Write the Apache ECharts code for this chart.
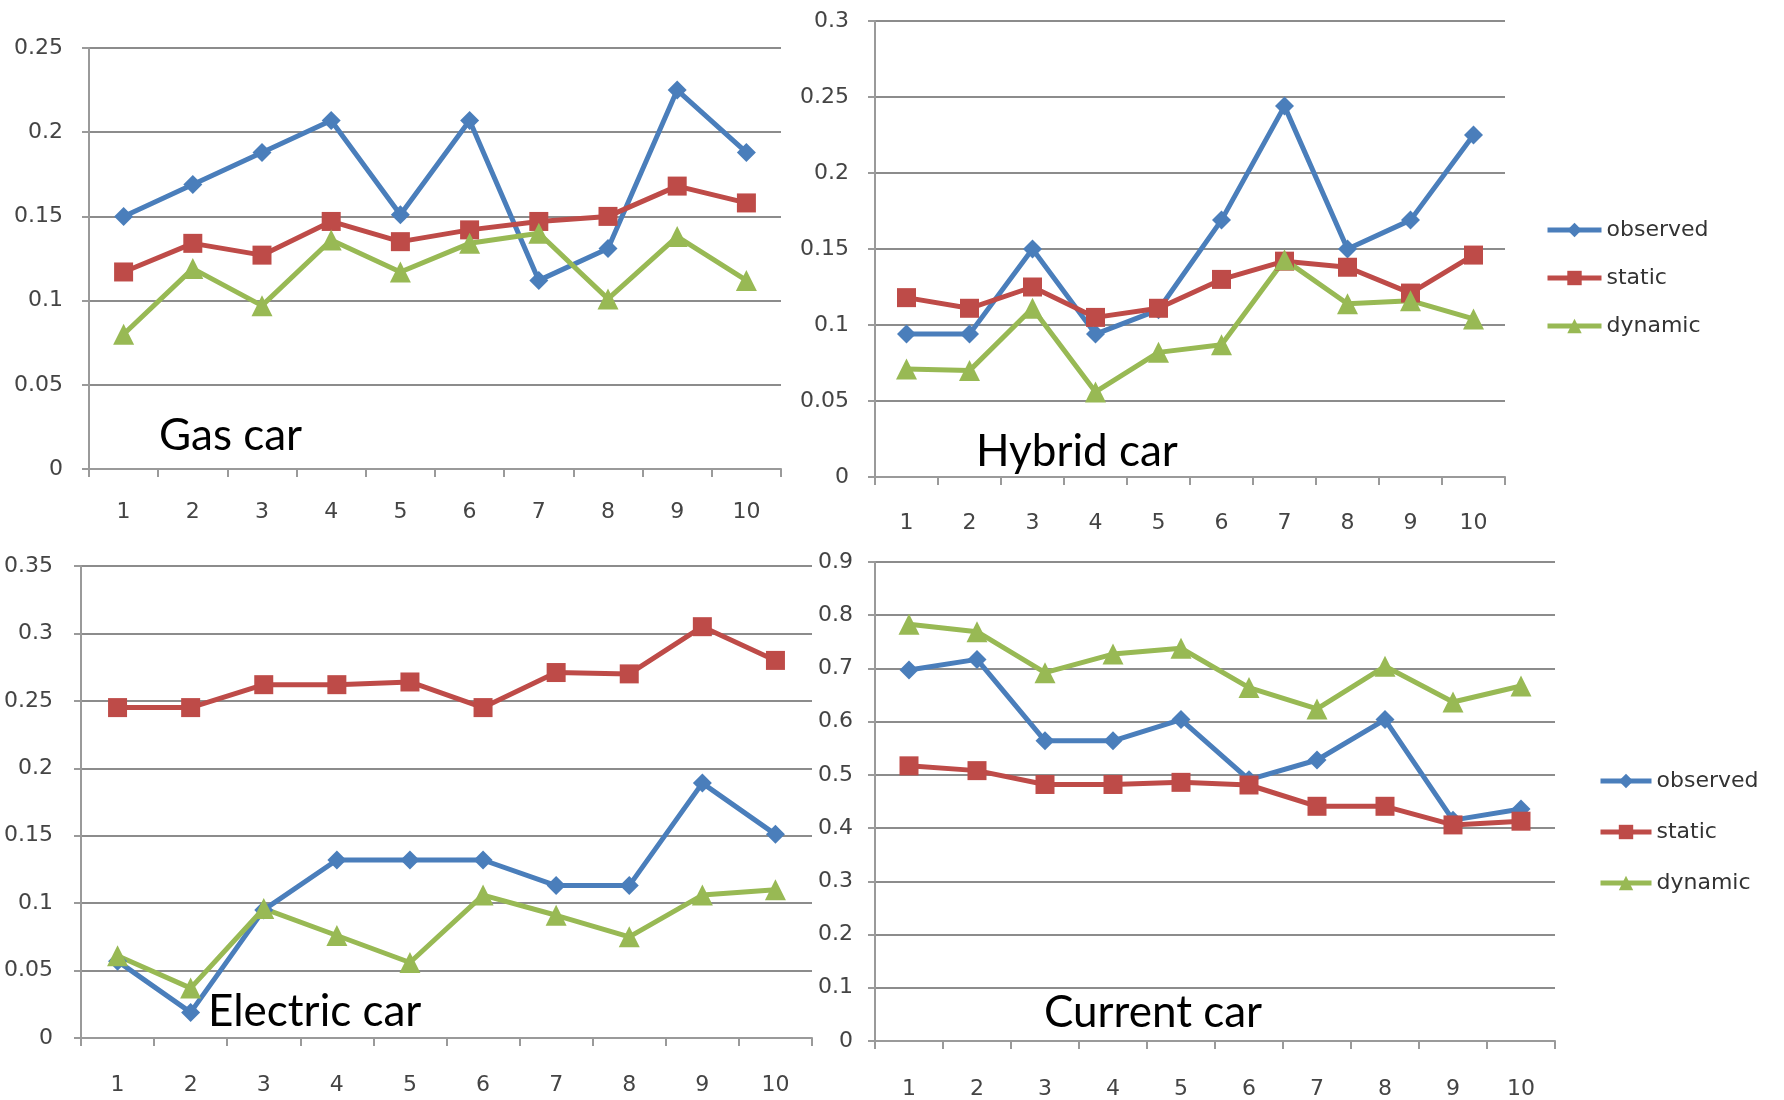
<!DOCTYPE html>
<html>
<head>
<meta charset="utf-8">
<title>car charts</title>
<script src="https://cdn.jsdelivr.net/npm/echarts@6/dist/echarts.min.js"></script>
<style>
  html, body { margin: 0; padding: 0; background: #fff; }
  #main { width: 1784px; height: 1100px; }
</style>
</head>
<body>
<div id="main"></div>
<script>
var categories = ['1', '2', '3', '4', '5', '6', '7', '8', '9', '10'];
var seriesNames = ['observed', 'static', 'dynamic'];

// Gas car
var gasObserved = [0.150, 0.169, 0.188, 0.207, 0.151, 0.207, 0.112, 0.131, 0.225, 0.188];
var gasStatic   = [0.117, 0.134, 0.127, 0.147, 0.135, 0.142, 0.147, 0.150, 0.168, 0.158];
var gasDynamic  = [0.080, 0.119, 0.097, 0.136, 0.117, 0.134, 0.140, 0.101, 0.138, 0.112];
// Hybrid car
var hybObserved = [0.094, 0.094, 0.150, 0.094, 0.110, 0.169, 0.244, 0.150, 0.169, 0.225];
var hybStatic   = [0.118, 0.111, 0.125, 0.105, 0.111, 0.130, 0.142, 0.138, 0.121, 0.146];
var hybDynamic  = [0.071, 0.070, 0.111, 0.056, 0.082, 0.087, 0.143, 0.114, 0.116, 0.104];
// Electric car
var elecObserved = [0.057, 0.019, 0.095, 0.132, 0.132, 0.132, 0.113, 0.113, 0.189, 0.151];
var elecStatic   = [0.245, 0.245, 0.262, 0.262, 0.264, 0.245, 0.271, 0.270, 0.305, 0.280];
var elecDynamic  = [0.061, 0.037, 0.096, 0.076, 0.056, 0.106, 0.091, 0.075, 0.106, 0.110];
// Current car
var curObserved = [0.697, 0.717, 0.564, 0.564, 0.604, 0.491, 0.528, 0.604, 0.415, 0.436];
var curStatic   = [0.517, 0.508, 0.482, 0.482, 0.486, 0.481, 0.441, 0.441, 0.406, 0.413];
var curDynamic  = [0.783, 0.769, 0.692, 0.727, 0.738, 0.664, 0.624, 0.704, 0.637, 0.667];

var yMax = [0.25, 0.3, 0.35, 0.9];
var yStep = [0.05, 0.05, 0.05, 0.1];
var panelTitles = ['Gas car', 'Hybrid car', 'Electric car', 'Current car'];

var colors = ['#4A7EBB', '#BE4B48', '#98B954'];
var symbols = ['diamond', 'rect', 'triangle'];
var symbolSizes = [19, 19, 21];

var panels = [
  { grid: { left: 89, top: 48, width: 692, height: 421 }, xMargin: 32, yMargin: 26, data: [gasObserved, gasStatic, gasDynamic] },
  { grid: { left: 875, top: 21, width: 630, height: 456 }, xMargin: 35, yMargin: 26, data: [hybObserved, hybStatic, hybDynamic] },
  { grid: { left: 81, top: 566, width: 731, height: 472 }, xMargin: 36, yMargin: 28, data: [elecObserved, elecStatic, elecDynamic] },
  { grid: { left: 875, top: 562, width: 680, height: 480 }, xMargin: 37, yMargin: 22, data: [curObserved, curStatic, curDynamic] }
];

var labelFont = 'DejaVu Sans';
var titleFont = 'Lato';

var grids = [], xAxes = [], yAxes = [], series = [];
panels.forEach(function (p, i) {
  grids.push(p.grid);
  xAxes.push({
    type: 'category',
    gridIndex: i,
    data: categories,
    boundaryGap: true,
    axisLine: { lineStyle: { color: '#9a9a9a', width: 2 } },
    axisTick: { show: true, length: 8, lineStyle: { color: '#9a9a9a', width: 2 } },
    axisLabel: { color: '#444', fontSize: 22, fontFamily: labelFont, margin: p.xMargin },
    splitLine: { show: false }
  });
  yAxes.push({
    type: 'value',
    gridIndex: i,
    min: 0,
    max: yMax[i],
    interval: yStep[i],
    axisLine: { show: true, lineStyle: { color: '#9a9a9a', width: 2 } },
    axisTick: { show: true, length: 7, lineStyle: { color: '#9a9a9a', width: 2 } },
    axisLabel: {
      color: '#444', fontSize: 22, fontFamily: labelFont, margin: p.yMargin,
      formatter: function (v) { return String(+v.toFixed(2)); }
    },
    splitLine: { show: true, lineStyle: { color: '#8c8c8c', width: 2 } }
  });
  for (var k = 0; k < 3; k++) {
    series.push({
      name: seriesNames[k],
      type: 'line',
      xAxisIndex: i,
      yAxisIndex: i,
      data: p.data[k],
      symbol: symbols[k],
      symbolSize: symbolSizes[k],
      showAllSymbol: true,
      lineStyle: { color: colors[k], width: 5 },
      itemStyle: { color: colors[k] }
    });
  }
});

var legendBase = {
  orient: 'vertical',
  itemWidth: 54,
  itemHeight: 18,
  itemGap: 26,
  data: seriesNames,
  lineStyle: { width: 5 },
  textStyle: { color: '#333', fontSize: 22, fontFamily: labelFont }
};

// Titles placed inside each plot
var titlePos = [[159, 440], [976, 456], [208, 1016], [1044, 1017]];
var graphics = panelTitles.map(function (t, i) {
  return {
    type: 'text',
    left: titlePos[i][0],
    top: titlePos[i][1] - 26,
    style: { text: t, font: '44px ' + titleFont, fill: '#000' }
  };
});

var myChart = echarts.init(document.getElementById('main'), null, { renderer: 'canvas' });
var option = {
  animation: false,
  backgroundColor: '#fff',
  grid: grids,
  xAxis: xAxes,
  yAxis: yAxes,
  legend: [
    Object.assign({ left: 1540, top: 214 }, legendBase),
    Object.assign({ left: 1593, top: 765 }, legendBase, { itemWidth: 51, itemGap: 29 })
  ],
  graphic: graphics,
  series: series
};
myChart.setOption(option);
window.addEventListener('resize', function () {
  myChart.resize();
});
</script>
</body>
</html>
